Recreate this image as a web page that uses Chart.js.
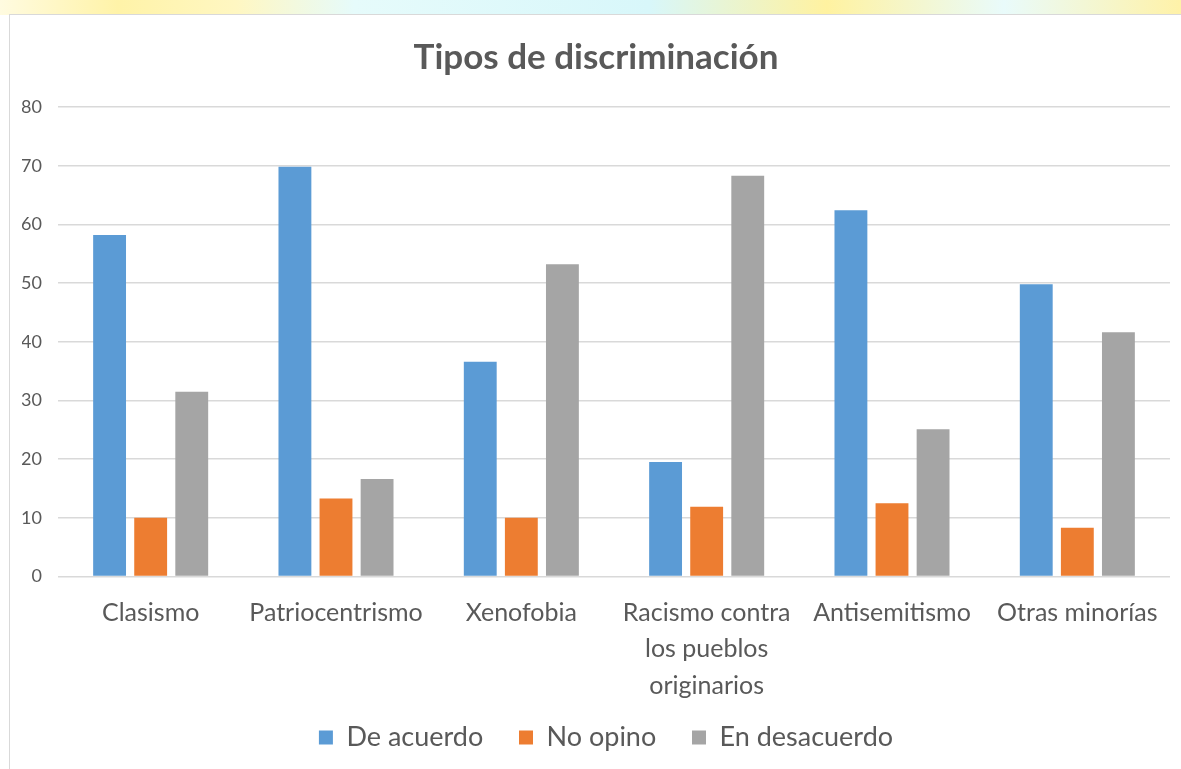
<!DOCTYPE html>
<html lang="es">
<head>
  <meta charset="UTF-8" />
  <title>Tipos de discriminación</title>
  <style>
    html, body {
      margin: 0;
      padding: 0;
      background: #ffffff;
      overflow: hidden;
    }
    .top-strip {
      position: absolute;
      left: 0; top: 0;
      width: 1181px; height: 15px;
      background: linear-gradient(90deg, #fffbe0 0%, #fff3a8 10%, #fff7c2 20%, #e6fbfb 30%, #d8f7fa 55%, #fff2a0 70%, #e9fbfb 85%, #fff2a8 100%);
    }
    #wrap {
      position: absolute;
      left: 9px;
      top: 14px;
      width: 1180px;
      height: 760px;
      border: 1px solid #d9d9d9;
      background: #ffffff;
    }
  </style>
</head>
<body>
  <div class="top-strip"></div>
  <div id="wrap">
    <canvas id="myChart" width="1171" height="758"></canvas>
  </div>

  <script src="https://cdn.jsdelivr.net/npm/chart.js"></script>
  <script type="text/javascript">
    const categories = [
      "Clasismo",
      "Patriocentrismo",
      "Xenofobia",
      ["Racismo contra", "los pueblos", "originarios"],
      "Antisemitismo",
      "Otras minorías"
    ];
    const deAcuerdo = [58.2, 69.8, 36.6, 19.5, 62.4, 49.8];
    const noOpino = [10.0, 13.3, 10.0, 11.9, 12.5, 8.3];
    const enDesacuerdo = [31.5, 16.6, 53.2, 68.3, 25.1, 41.6];
    const yTicks = [0, 10, 20, 30, 40, 50, 60, 70, 80];

    const fontFamily = "Lato, 'Open Sans', sans-serif";
    const textColor = "#595959";

    // nudge the legend a little to the right, like the original
    const legendShift = {
      id: 'legendShift',
      afterLayout(chart) {
        chart.legend.left += 10;
        chart.legend.right += 10;
      }
    };

    const ctx = document.getElementById('myChart');
    new Chart(ctx, {
      type: 'bar',
      data: {
        labels: categories,
        datasets: [
          { label: 'De acuerdo', data: deAcuerdo, backgroundColor: '#5b9bd5' },
          { label: 'No opino', data: noOpino, backgroundColor: '#ed7d31' },
          { label: 'En desacuerdo', data: enDesacuerdo, backgroundColor: '#a5a5a5' }
        ]
      },
      plugins: [legendShift],
      options: {
        responsive: false,
        animation: false,
        layout: { padding: { left: 12, right: 11, top: 16, bottom: 12 } },
        datasets: {
          bar: { categoryPercentage: 0.665, barPercentage: 0.8 }
        },
        plugins: {
          title: {
            display: true,
            text: 'Tipos de discriminación',
            color: textColor,
            font: { family: fontFamily, size: 35, weight: 'bold' },
            padding: { top: 6, bottom: 28 }
          },
          legend: {
            position: 'bottom',
            labels: {
              color: textColor,
              font: { family: fontFamily, size: 27 },
              boxWidth: 14,
              boxHeight: 14,
              padding: 2,
              // wider gap between items without adding vertical padding
              generateLabels: (chart) => {
                const items = Chart.defaults.plugins.legend.labels.generateLabels(chart);
                items.forEach((it, i) => {
                  if (i < items.length - 1) it.text = it.text + '\u2003\u2002';
                });
                return items;
              }
            }
          },
          tooltip: { enabled: false }
        },
        scales: {
          x: {
            grid: { display: false, drawTicks: false },
            border: { display: false },
            ticks: {
              color: textColor,
              font: { family: fontFamily, size: 25, lineHeight: 1.46 },
              padding: 18,
              maxRotation: 0,
              autoSkip: false
            }
          },
          y: {
            min: 0,
            max: 80,
            afterFit: (scale) => { scale.width = 36; },
            afterBuildTicks: (scale) => { scale.ticks = yTicks.map(v => ({ value: v })); },
            grid: { color: '#d9d9d9', lineWidth: 1.5, drawTicks: false },
            border: { display: false },
            ticks: {
              color: textColor,
              font: { family: fontFamily, size: 18 },
              padding: 16
            }
          }
        }
      }
    });
  </script>
</body>
</html>
